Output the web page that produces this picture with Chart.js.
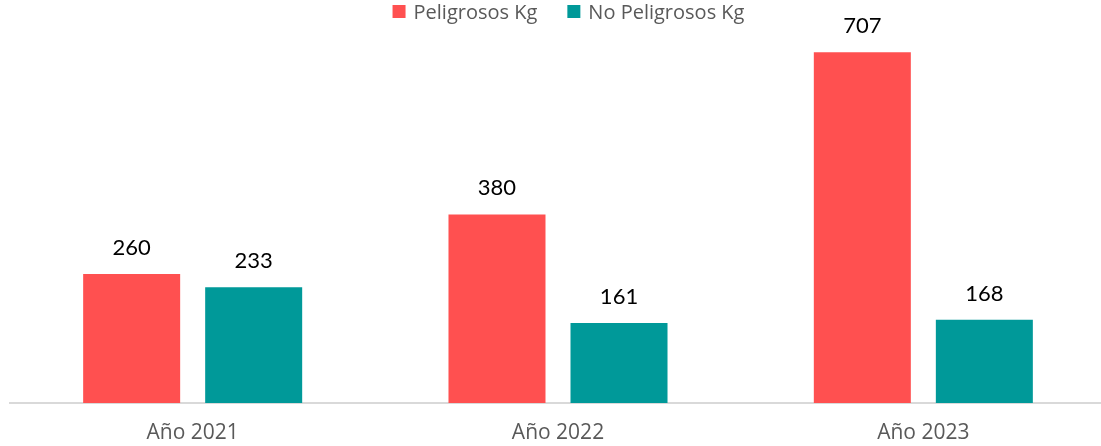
<!DOCTYPE html>
<html>
<head>
<meta charset="utf-8">
<script src="https://cdn.jsdelivr.net/npm/chart.js@4/dist/chart.umd.min.js"></script>
<style>
html,body{margin:0;padding:0;background:#fff;overflow:hidden;}
#clip{width:1101px;height:446px;overflow:hidden;position:relative;}
#wrap{position:absolute;left:0;top:0;width:1106px;height:463px;}
</style>
</head>
<body>
<div id="clip"><div id="wrap"><canvas id="c"></canvas></div></div>
<script>
const categories = ["Año 2021", "Año 2022", "Año 2023"];
const seriesNames = ["Peligrosos Kg", "No Peligrosos Kg"];
const peligrosos = [260, 380, 707];
const noPeligrosos = [233, 161, 168];
const seriesColors = ["#FF5050", "#009999"];

const LBL_FONT = "Lato, 'Open Sans', sans-serif";
const TXT_FONT = "'Open Sans', sans-serif";

const labelPlugin = {
  id: 'barLabels',
  afterDatasetsDraw(chart) {
    const ctx = chart.ctx;
    ctx.save();
    ctx.font = "22px " + LBL_FONT;
    ctx.fillStyle = "#000000";
    ctx.textAlign = "center";
    ctx.textBaseline = "alphabetic";
    chart.data.datasets.forEach((ds, i) => {
      const meta = chart.getDatasetMeta(i);
      meta.data.forEach((bar, j) => {
        ctx.fillText(String(ds.data[j]), bar.x, bar.y - 19);
      });
    });
    ctx.restore();
  }
};

const legendPlugin = {
  id: 'topLegend',
  afterDraw(chart) {
    const ctx = chart.ctx;
    ctx.save();
    ctx.font = "20px " + TXT_FONT;
    ctx.textBaseline = "alphabetic";
    ctx.textAlign = "left";
    const box = 13, gapBox = 8, gapItem = 30;
    const widths = seriesNames.map(n => ctx.measureText(n).width);
    let total = 0;
    widths.forEach((w, i) => { total += box + gapBox + w + (i < widths.length - 1 ? gapItem : 0); });
    let x = 568.5 - total / 2;
    seriesNames.forEach((n, i) => {
      ctx.fillStyle = seriesColors[i];
      ctx.fillRect(x, 5, box, box);
      ctx.fillStyle = "#595959";
      ctx.fillText(n, x + box + gapBox, 18.5);
      x += box + gapBox + widths[i] + gapItem;
    });
    ctx.restore();
  }
};

new Chart(document.getElementById('c'), {
  type: 'bar',
  data: {
    labels: categories,
    datasets: [
      { label: seriesNames[0], data: peligrosos, backgroundColor: seriesColors[0], borderWidth: 0 },
      { label: seriesNames[1], data: noPeligrosos, backgroundColor: seriesColors[1], borderWidth: 0 }
    ]
  },
  options: {
    responsive: true,
    maintainAspectRatio: false,
    animation: false,
    devicePixelRatio: 1,
    categoryPercentage: 0.668,
    barPercentage: 0.795,
    layout: { padding: { left: 10, right: 0, top: 6, bottom: 0 } },
    plugins: {
      legend: { display: false },
      tooltip: { enabled: false }
    },
    scales: {
      x: {
        grid: { display: false, drawTicks: false },
        border: { display: true, color: '#D9D9D9', width: 2 },
        ticks: { color: '#595959', font: { family: TXT_FONT, size: 21, lineHeight: 1.2 }, padding: 17.4 }
      },
      y: {
        display: false,
        min: 0,
        max: 800,
        grid: { display: false }
      }
    }
  },
  plugins: [labelPlugin, legendPlugin]
});
</script>
</body>
</html>
